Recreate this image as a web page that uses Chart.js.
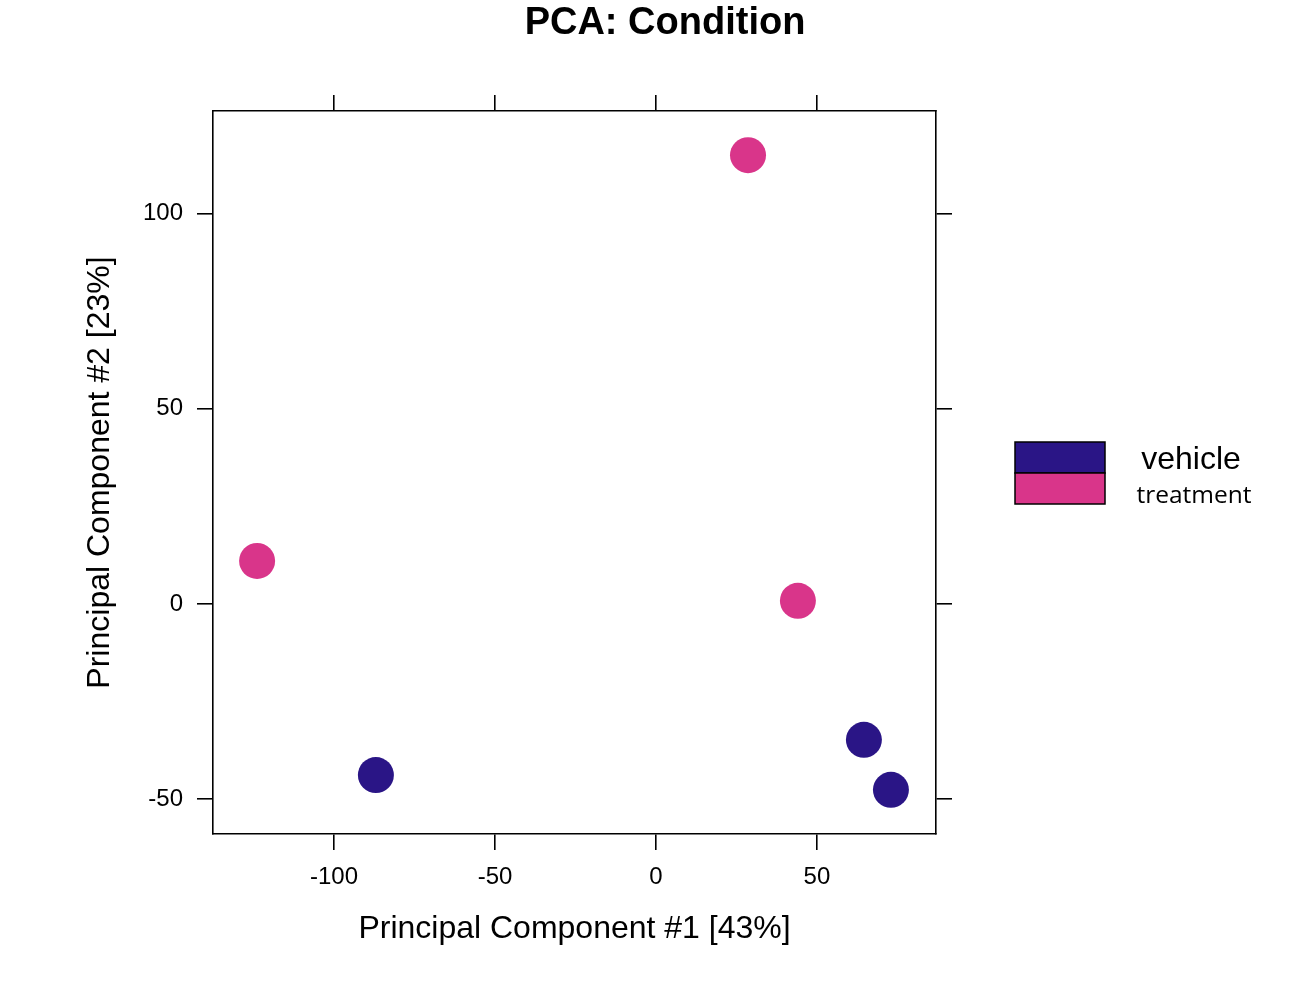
<!DOCTYPE html>
<html>
<head>
<meta charset="utf-8">
<script src="https://cdn.jsdelivr.net/npm/chart.js@4.4.0/dist/chart.umd.min.js"></script>
<style>
html,body{margin:0;padding:0;background:#fff;}
canvas{display:block;}
</style>
</head>
<body>
<canvas id="c" width="1300" height="982"></canvas>
<script>
const groups = ["vehicle", "treatment"];
const groupColors = ["#2A1586", "#D9358A"];
const vehicleX = [-87.0, 64.6, 73.0];
const vehicleY = [-43.8, -34.8, -47.6];
const treatmentX = [28.6, -123.9, 44.1];
const treatmentY = [114.9, 11.0, 0.8];
const xTicks = [-100, -50, 0, 50];
const yTicks = [-50, 0, 50, 100];
const chartTitle = "PCA: Condition";
const xTitle = "Principal Component #1 [43%]";
const yTitle = "Principal Component #2 [23%]";

const FONT = "'Liberation Sans', Arial, Helvetica, sans-serif";
const XMIN = -137.6, XMAX = 87.0, YMIN = -58.9, YMAX = 126.2;

function pts(xs, ys){ return xs.map((x,i)=>({x:x, y:ys[i]})); }

const tickGrid = {drawOnChartArea:false, drawTicks:true, tickLength:16, color:'#000', lineWidth:1.6};
const border = {display:true, color:'#000', width:1.6};

function fixTicks(vals){
  return function(scale){ scale.ticks = vals.map(v=>({value:v})); };
}

const decor = {
  id:'decor',
  afterDraw(chart){
    const ctx = chart.ctx;
    ctx.save();
    ctx.fillStyle = '#000';
    ctx.textAlign = 'center';
    ctx.textBaseline = 'middle';
    ctx.font = "bold 38px " + FONT;
    ctx.fillText(chartTitle, 665, 24);
    // legend
    const lx = 1015, ly = 442, w = 90, h = 31;
    groups.forEach((g,i)=>{
      ctx.fillStyle = groupColors[i];
      ctx.fillRect(lx, ly + i*h, w, h);
      ctx.lineWidth = 1.5;
      ctx.strokeStyle = '#000';
      ctx.strokeRect(lx, ly + i*h, w, h);
    });
    ctx.fillStyle = '#000';
    ctx.font = "32px " + FONT;
    ctx.fillText(groups[0], 1191, 460);
    ctx.font = "24.5px 'Open Sans', 'Noto Sans', sans-serif";
    ctx.fillText(groups[1], 1194, 496);
    ctx.restore();
  }
};

new Chart(document.getElementById('c'), {
  type:'scatter',
  data:{
    datasets:[
      {label:groups[0], data:pts(vehicleX, vehicleY), backgroundColor:groupColors[0], borderWidth:0, pointRadius:18, pointHoverRadius:18},
      {label:groups[1], data:pts(treatmentX, treatmentY), backgroundColor:groupColors[1], borderWidth:0, pointRadius:18, pointHoverRadius:18}
    ]
  },
  options:{
    responsive:false,
    animation:false,
    events:[],
    layout:{padding:0},
    plugins:{legend:{display:false}, title:{display:false}, tooltip:{enabled:false}},
    scales:{
      x:{type:'linear', position:'bottom', min:XMIN, max:XMAX,
        afterBuildTicks:fixTicks(xTicks),
        ticks:{autoSkip:false, maxRotation:0, padding:13, color:'#000', font:{family:FONT, size:24}},
        grid:tickGrid, border:border,
        title:{display:true, text:xTitle, color:'#000', font:{family:FONT, size:32}, padding:{top:0,bottom:34}},
        afterFit(s){ s.height = 148; }
      },
      x2:{type:'linear', position:'top', min:XMIN, max:XMAX,
        afterBuildTicks:fixTicks(xTicks),
        ticks:{autoSkip:false, maxRotation:0, color:'rgba(0,0,0,0)', font:{family:FONT, size:20}},
        grid:tickGrid, border:border,
        afterFit(s){ s.height = 111; }
      },
      y:{type:'linear', position:'left', min:YMIN, max:YMAX,
        afterBuildTicks:fixTicks(yTicks),
        ticks:{autoSkip:false, padding:14, color:'#000', font:{family:FONT, size:24}},
        grid:tickGrid, border:border,
        title:{display:true, text:yTitle, color:'#000', font:{family:FONT, size:32}, padding:{top:81,bottom:0}},
        afterFit(s){ s.width = 213; }
      },
      y2:{type:'linear', position:'right', min:YMIN, max:YMAX,
        afterBuildTicks:fixTicks(yTicks),
        ticks:{autoSkip:false, color:'rgba(0,0,0,0)', font:{family:FONT, size:20}},
        grid:tickGrid, border:border,
        afterFit(s){ s.width = 364; }
      }
    }
  },
  plugins:[decor]
});
</script>
</body>
</html>
